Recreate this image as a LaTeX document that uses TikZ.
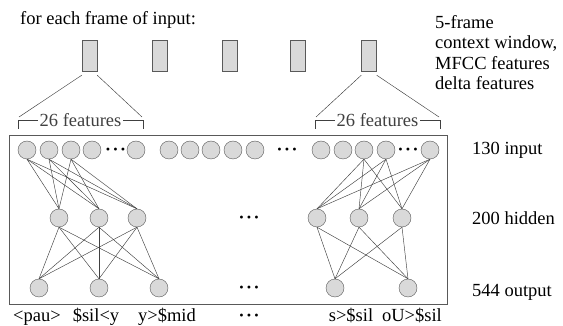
\documentclass[tikz,border=0pt]{standalone}
\usepackage{fontspec}
\setmainfont{Liberation Serif}
\usetikzlibrary{positioning}
\tikzset{
  frm/.style={draw=black!65, fill=black!15, minimum width=15pt, minimum height=31pt, inner sep=0pt},
  unit/.style={circle, draw=black!65, fill=black!15, minimum size=18pt, inner sep=0pt},
  lnk/.style={black!75, line width=0.45pt},
  txt/.style={inner sep=0pt, font=\fontsize{18.5}{20.5}\selectfont},
}
\newcommand{\bigdots}{\scalebox{0.45}{$\bullet$\hspace{8pt}$\bullet$\hspace{8pt}$\bullet$}}

\begin{document}
\begin{tikzpicture}[x=1pt,y=-1pt]
\useasboundingbox (0,0) rectangle (563,326);
\node[txt, anchor=base west] (title) at (20,25) {for each frame of input:};
\node[txt, anchor=north west, align=left] (ctx) at (435,15) {5-frame\\context window,\\MFCC features\\delta features};
\foreach \n/\x in {1/89.5,2/159.5,3/229.5,4/298,5/369}
  \node[frm] (f\n) at (\x,55.5) {};
\coordinate (la) at (18,120);
\coordinate (ra) at (143,120);
\coordinate (lb) at (315,120);
\coordinate (rb) at (440,120);
\draw[lnk] ([yshift=-4pt]f1.south west) -- ([shift={(1pt,3pt)}]la);
\draw[lnk] ([yshift=-4pt]f1.south east) -- ([shift={(-1pt,3pt)}]ra);
\draw[lnk] ([yshift=-4pt]f5.south west) -- ([shift={(1pt,3pt)}]lb);
\draw[lnk] ([yshift=-4pt]f5.south east) -- ([shift={(-1pt,3pt)}]rb);
\draw[lnk] ([yshift=-9pt]la) -- (la) -- node[txt, fill=white, inner xsep=2pt] (fa) {26 features} (ra) -- ([yshift=-9pt]ra);
\draw[lnk] ([yshift=-9pt]lb) -- (lb) -- node[txt, fill=white, inner xsep=2pt] (fb) {26 features} (rb) -- ([yshift=-9pt]rb);
\draw[black!65, line width=0.6pt] (9,135) rectangle (447,304);
\foreach \n/\x in {1/27,2/49,3/71,4/92,5/136}
  \node[unit] (i\n) at (\x,150) {};
\foreach \n/\x in {1/169,2/190,3/211,4/233,5/255}
  \node[unit] (j\n) at (\x,150) {};
\foreach \n/\x in {1/321,2/343,3/364,4/386,5/430}
  \node[unit] (k\n) at (\x,150) {};
\foreach \n/\x in {1/59,2/99,3/137,4/317,5/359,6/402}
  \node[unit] (h\n) at (\x,218) {};
\foreach \n/\x in {1/39,2/99,3/159,4/335,5/408}
  \node[unit] (o\n) at (\x,288) {};
\node[txt] (di) at (115.5,150) {\bigdots};
\node[txt] (dk) at (408,150) {\bigdots};
\node[txt] (dm) at (287,150) {\bigdots};
\node[txt] (dh) at (249,218) {\bigdots};
\node[txt] (dout) at (249,288) {\bigdots};
\foreach \a in {i1,i2,i3}
  \foreach \b in {h1,h2,h3}
    \draw[lnk] (\a.south) -- (\b.north);
\foreach \a in {k3,k4,k5}
  \foreach \b in {h4,h5,h6}
    \draw[lnk] (\a.south) -- (\b.north);
\foreach \a in {h1,h2,h3}
  \foreach \b in {o1,o2,o3}
    \draw[lnk] (\a.south) -- (\b.north);
\foreach \a in {h4,h5,h6}
  \foreach \b in {o4,o5}
    \draw[lnk] (\a.south) -- (\b.north);
\node[txt, anchor=base west] (nin) at (472,155) {130 input};
\node[txt, anchor=base west] (nhid) at (472,225) {200 hidden};
\node[txt, anchor=base west] (nout) at (472,297) {544 output};
\foreach \n/\x/\t in {1/37/{<pau>},2/96/{\$sil<y},3/167/{y>\$mid},4/351/{s>\$sil},5/412/{oU>\$sil}}
  \node[txt, anchor=base] (c\n) at (\x,321) {\t};
\node[txt, anchor=base] (cd) at (249,321) {\raisebox{4pt}{\bigdots}};
\end{tikzpicture}
\end{document}
